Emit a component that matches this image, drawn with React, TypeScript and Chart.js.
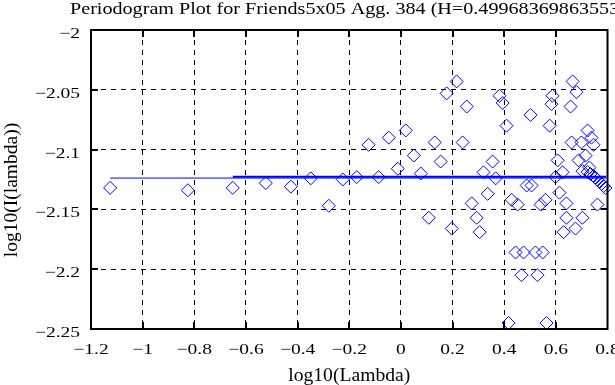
import React, { useEffect, useRef } from "react";
import { Chart, registerables } from "chart.js";

Chart.register(...registerables);

const TITLE = "Periodogram Plot for Friends5x05 Agg. 384 (H=0.499683698635535)";
const X_LABEL = "log10(Lambda)";
const Y_LABEL = "log10(I(lambda))";

const X_TICKS = [-1.2, -1, -0.8, -0.6, -0.4, -0.2, 0, 0.2, 0.4, 0.6, 0.8];
const Y_TICKS = [-2.25, -2.2, -2.15, -2.1, -2.05, -2];

// periodogram points: log10(lambda), log10(I(lambda))
const LOG_LAMBDA = [
  -1.126, -0.825, -0.651, -0.523, -0.426, -0.349, -0.279, -0.225,
  -0.171, -0.125, -0.086, -0.047, -0.012, 0.019, 0.05, 0.077, 0.131, 0.154,
  0.177, 0.216, 0.255, 0.239, 0.274, 0.32, 0.108, 0.197, 0.293, 0.305,
  0.665, 0.68, 0.382, 0.394, 0.587, 0.583, 0.657, 0.502, 0.409, 0.576,
  0.723, 0.661, 0.699, 0.738, 0.746, 0.355, 0.367, 0.607, 0.626, 0.599,
  0.688, 0.715, 0.703, 0.73, 0.487, 0.506, 0.336, 0.429, 0.452, 0.56,
  0.541, 0.614, 0.641, 0.761, 0.641, 0.703, 0.63, 0.676, 0.444, 0.475,
  0.521, 0.549, 0.467, 0.529, 0.417, 0.564,
  0.723, 0.734, 0.746, 0.754, 0.761, 0.769, 0.777, 0.785, 0.792,
];
const LOG_I = [
  -2.132, -2.134, -2.132, -2.128, -2.131, -2.124, -2.147, -2.125,
  -2.123, -2.096, -2.123, -2.09, -2.116, -2.084, -2.105, -2.12, -2.094, -2.11,
  -2.053, -2.043, -2.064, -2.094, -2.145, -2.119, -2.157, -2.166, -2.157, -2.169,
  -2.043, -2.052, -2.055, -2.061, -2.055, -2.062, -2.064, -2.071, -2.08, -2.08,
  -2.084, -2.094, -2.094, -2.09, -2.096, -2.11, -2.124, -2.109, -2.119, -2.123,
  -2.109, -2.105, -2.118, -2.115, -2.13, -2.13, -2.137, -2.142, -2.146, -2.142,
  -2.146, -2.136, -2.145, -2.146, -2.157, -2.157, -2.169, -2.166, -2.186, -2.186,
  -2.186, -2.186, -2.205, -2.205, -2.245, -2.245,
  -2.1187, -2.1204, -2.1221, -2.1237, -2.1254, -2.1271, -2.1288, -2.1304, -2.1321,
];

// fitted lines
const FIT_ALL_X = [-1.126, 0.795];
const FIT_ALL_Y = [-2.1238, -2.1238];
const FIT_PART_X = [-0.651, 0.795];
const FIT_PART_Y = [-2.1228, -2.1228];

const BLUE = "#0000ff";
const FONT = '"Liberation Serif", "Times New Roman", serif';

function drawText(
  ctx: CanvasRenderingContext2D,
  text: string,
  x: number,
  y: number,
  size: number,
  sx: number,
  align: CanvasTextAlign,
  rot = 0
) {
  ctx.save();
  ctx.translate(x, y);
  if (rot) ctx.rotate(rot);
  ctx.scale(sx, 1);
  ctx.font = `${size}px ${FONT}`;
  ctx.fillStyle = "#000";
  ctx.textAlign = align;
  ctx.textBaseline = "alphabetic";
  ctx.fillText(text, 0, 0);
  ctx.restore();
}

function fmt(v: number) {
  const n = Number(v.toFixed(2));
  if (n === 0) return "0";
  return String(n).replace("-", "\u2212");
}

const framePlugin = {
  id: "gnuplotFrame",
  afterDraw(chart: any) {
    const { ctx, chartArea: a, scales } = chart;
    const xs = scales.x;
    const ys = scales.y;
    ctx.save();
    ctx.strokeStyle = "#000";
    ctx.lineWidth = 2;
    ctx.setLineDash([]);
    ctx.beginPath();
    xs.ticks.forEach((t: any) => {
      const px = Math.round(xs.getPixelForValue(t.value));
      if (px <= a.left + 1 || px >= a.right - 1) return;
      ctx.moveTo(px, a.bottom);
      ctx.lineTo(px, a.bottom - 7);
      ctx.moveTo(px, a.top);
      ctx.lineTo(px, a.top + 7);
    });
    ys.ticks.forEach((t: any) => {
      const py = Math.round(ys.getPixelForValue(t.value));
      if (py <= a.top + 1 || py >= a.bottom - 1) return;
      ctx.moveTo(a.left, py);
      ctx.lineTo(a.left + 7, py);
      ctx.moveTo(a.right, py);
      ctx.lineTo(a.right - 7, py);
    });
    ctx.stroke();
    ctx.strokeRect(a.left, a.top, a.right - a.left, a.bottom - a.top);
    ctx.restore();

    // tick labels
    xs.ticks.forEach((t: any) => {
      const px = xs.getPixelForValue(t.value);
      drawText(ctx, fmt(t.value), px, 354, 15, 1.3, "center");
    });
    ys.ticks.forEach((t: any) => {
      const py = ys.getPixelForValue(t.value);
      drawText(ctx, fmt(t.value), 80, py + 8, 15, 1.3, "right");
    });
    // titles
    drawText(ctx, TITLE, 70, 14, 16.5, 1.22, "left");
    drawText(ctx, X_LABEL, (a.left + a.right) / 2, 381, 18, 1.09, "center");
    drawText(ctx, Y_LABEL, 17, 190, 19.5, 1, "center", -Math.PI / 2);
  },
};

export default function App() {
  const ref = useRef<HTMLCanvasElement | null>(null);

  useEffect(() => {
    if (!ref.current) return;
    const points = LOG_LAMBDA.map((x, i) => ({ x, y: LOG_I[i] }));
    const fitAll = FIT_ALL_X.map((x, i) => ({ x, y: FIT_ALL_Y[i] }));
    const fitPart = FIT_PART_X.map((x, i) => ({ x, y: FIT_PART_Y[i] }));

    const gridCommon = {
      color: "#000",
      lineWidth: 1,
      drawTicks: false,
      borderDash: [5, 5],
    };

    const chart = new Chart(ref.current, {
      type: "scatter",
      data: {
        datasets: [
          {
            data: points,
            pointStyle: "rectRot",
            pointRadius: 6.5,
            borderColor: BLUE,
            backgroundColor: "rgba(0,0,0,0)",
            borderWidth: 1,
            showLine: false,
            clip: false as any,
          },
          {
            data: fitAll,
            showLine: true,
            pointRadius: 0,
            borderColor: BLUE,
            borderWidth: 1,
          },
          {
            data: fitPart,
            showLine: true,
            pointRadius: 0,
            borderColor: BLUE,
            borderWidth: 2,
          },
        ],
      },
      options: {
        responsive: true,
        maintainAspectRatio: false,
        animation: false,
        layout: { padding: { top: 30, right: 7, left: 0, bottom: 0 } },
        plugins: {
          legend: { display: false },
          tooltip: { enabled: false },
          title: { display: false },
        },
        scales: {
          x: {
            type: "linear",
            min: -1.2,
            max: 0.8,
            afterBuildTicks: (s: any) => {
              s.ticks = X_TICKS.map((value) => ({ value }));
            },
            ticks: { display: false },
            grid: gridCommon as any,
            border: { display: false, dash: [5, 5] },
            afterFit: (s: any) => {
              s.height = 56;
              s.paddingLeft = 0;
              s.paddingRight = 0;
            },
          },
          y: {
            type: "linear",
            min: -2.25,
            max: -2,
            afterBuildTicks: (s: any) => {
              s.ticks = Y_TICKS.map((value) => ({ value }));
            },
            ticks: { display: false },
            grid: gridCommon as any,
            border: { display: false, dash: [5, 5] },
            afterFit: (s: any) => {
              s.width = 91;
              s.paddingTop = 0;
              s.paddingBottom = 0;
            },
          },
        },
      },
      plugins: [framePlugin],
    });
    return () => chart.destroy();
  }, []);

  return (
    <div
      style={{
        position: "fixed",
        left: 0,
        top: 0,
        width: 615,
        height: 385,
        background: "#fff",
      }}
    >
      <canvas ref={ref} />
    </div>
  );
}
